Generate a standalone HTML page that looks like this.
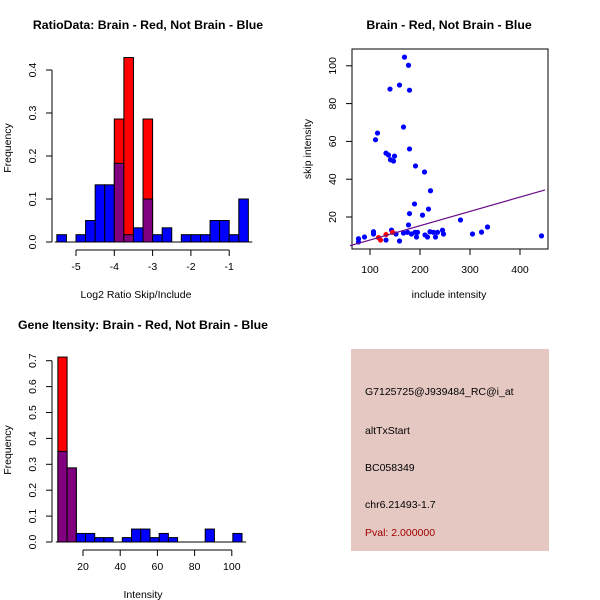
<!DOCTYPE html>
<html><head><meta charset="utf-8"><style>
body{margin:0;background:#fff;}
svg{display:block;font-family:"Liberation Sans",sans-serif;}
</style></head><body>
<svg id="c" width="600" height="600" xmlns="http://www.w3.org/2000/svg">
<rect width="600" height="600" fill="#fff"/>
<text x="148" y="29" font-size="12.3" font-weight="bold" text-anchor="middle">RatioData: Brain - Red, Not Brain - Blue</text>
<text x="136" y="298" font-size="10.5" text-anchor="middle">Log2 Ratio Skip/Include</text>
<text x="11" y="148" font-size="10.5" text-anchor="middle" transform="rotate(-90 11 148)">Frequency</text>
<text x="449" y="29" font-size="12.3" font-weight="bold" text-anchor="middle">Brain - Red, Not Brain - Blue</text>
<text x="449" y="298" font-size="10.5" text-anchor="middle">include intensity</text>
<text x="311" y="149" font-size="10.5" text-anchor="middle" transform="rotate(-90 311 149)">skip intensity</text>
<text x="143" y="329" font-size="12.3" font-weight="bold" text-anchor="middle">Gene Itensity: Brain - Red, Not Brain - Blue</text>
<text x="143" y="598" font-size="10.5" text-anchor="middle">Intensity</text>
<text x="11" y="450" font-size="10.5" text-anchor="middle" transform="rotate(-90 11 450)">Frequency</text>
<rect x="351" y="349" width="198" height="202" fill="#e5c8c2"/>
<text x="365" y="395" font-size="10.5">G7125725@J939484_RC@i_at</text>
<text x="365" y="434" font-size="10.5">altTxStart</text>
<text x="365" y="471" font-size="10.5">BC058349</text>
<text x="365" y="508" font-size="10.5">chr6.21493-1.7</text>
<text x="365" y="536" font-size="10.5" fill="#a00000">Pval: 2.000000</text>
</svg>
<script>
// Ratio histogram data
const ratioStart = -5.5, ratioWidth = 0.25;
const ratioBlue = [0.017,0,0.017,0.05,0.133,0.133,0.183,0.017,0.033,0.1,0.017,0.033,0,0.017,0.017,0.017,0.05,0.05,0.017,0.1];
const ratioRed  = [0,0,0,0,0,0,0.286,0.429,0,0.286,0,0,0,0,0,0,0,0,0,0];
const ratioXTicks = [-5,-4,-3,-2,-1];
const ratioYTicks = [0,0.1,0.2,0.3,0.4];
// Intensity histogram data
const intStart = 6.5, intWidth = 4.95;
const intBlue = [0.35,0.286,0.033,0.033,0.017,0.017,0,0.017,0.05,0.05,0.017,0.033,0.017,0,0,0,0.05,0,0,0.033];
const intRed  = [0.714,0.286,0,0,0,0,0,0,0,0,0,0,0,0,0,0,0,0,0,0];
const intXTicks = [20,40,60,80,100];
const intYTicks = [0,0.1,0.2,0.3,0.4,0.5,0.6,0.7];
// Scatter data
const blueX = [169,177,159,140,179,167,115,111,179,132,137,149,141,147,191,209,221,189,179,217,205,177,281,335,323,305,443,77,77,89,107,107,143,152,159,132,167,175,183,190,193,195,210,215,220,227,231,235,245,247];
const blueY = [104.6,100.3,89.8,87.7,87.1,67.6,64.4,60.9,56,53.8,52.8,52.2,50.3,49.6,47,43.8,33.9,26.9,21.8,24.2,21,15.8,18.4,14.7,12,11,10,8.5,6.8,9.4,12.2,11,13.1,11,7.3,7.8,11.5,11.9,11,11.9,9.4,11.9,10.5,9.4,12.2,11.9,9.4,11.9,13,11];
const redX = [117,121,132,145];
const redY = [9.1,7.8,10.7,11.9];
const fitLine = [[60,4.8],[450,34.3]];
const scXTicks = [100,200,300,400];
const scYTicks = [20,40,60,80,100];

const svg = document.getElementById('c');
const NS = 'http://www.w3.org/2000/svg';
function mk(tag, attrs){const e=document.createElementNS(NS,tag);for(const k in attrs)e.setAttribute(k,attrs[k]);svg.appendChild(e);return e;}

function hist(prefix, start, width, blue, red, xs, ys, xTicks, yTicks, y0){
  let e = mk('line',{x1:52,x2:52,y1:ys(yTicks[0]),y2:ys(yTicks[yTicks.length-1]),stroke:'#000'});
  
  
  yTicks.forEach(t=>{
    mk('line',{x1:46,x2:52,y1:ys(t),y2:ys(t),stroke:'#000'});
    const tx=mk('text',{x:36,y:ys(t),'font-size':10.5,'text-anchor':'middle',transform:`rotate(-90 36 ${ys(t)})`});
    tx.textContent=t.toFixed(1);
    
    
  });
  e = mk('line',{x1:xs(xTicks[0]),x2:xs(xTicks[xTicks.length-1]),y1:y0+8,y2:y0+8,stroke:'#000'});
  
  
  xTicks.forEach(t=>{
    mk('line',{x1:xs(t),x2:xs(t),y1:y0+8,y2:y0+14,stroke:'#000'});
    const tx=mk('text',{x:xs(t),y:y0+28,'font-size':10.5,'text-anchor':'middle'});
    tx.textContent=t;
    
    
  });
  mk('line',{x1:xs(start)-2,x2:xs(start+width*blue.length)+4,y1:y0,y2:y0,stroke:'#000'});
  for(let i=0;i<blue.length;i++){
    const x1=xs(start+i*width), x2=xs(start+(i+1)*width);
    if(red[i]>0){
      const r=mk('rect',{x:x1,y:ys(red[i]),width:x2-x1,height:y0-ys(red[i]),fill:'#ff0000',stroke:'#000','stroke-width':1});
      
      
    }
    if(blue[i]>0){
      const col = red[i]>0 ? '#800080' : '#0000ff';
      const r=mk('rect',{x:x1,y:ys(blue[i]),width:x2-x1,height:y0-ys(blue[i]),fill:col,stroke:'#000','stroke-width':1});
      
      
    }
  }
}

const rY = v=>242 - v*430;
const rX = v=>76 + (v+5)*38.3;
hist('ratio', ratioStart, ratioWidth, ratioBlue, ratioRed, rX, rY, ratioXTicks, ratioYTicks, 242);

const iY = v=>542 - v*259;
const iX = v=>83 + (v-20)*1.86;
hist('intensity', intStart, intWidth, intBlue, intRed, iX, iY, intXTicks, intYTicks, 542);

const sX = v=>370 + (v-100)*0.5;
const sY = v=>217 - (v-20)*1.89;
let b = mk('rect',{x:352,y:49,width:196,height:200,fill:'none',stroke:'#000'});


scXTicks.forEach(t=>{
  mk('line',{x1:sX(t),x2:sX(t),y1:249,y2:255,stroke:'#000'});
  const tx=mk('text',{x:sX(t),y:273,'font-size':10.5,'text-anchor':'middle'});
  tx.textContent=t;
  
  
});
scYTicks.forEach(t=>{
  mk('line',{x1:346,x2:352,y1:sY(t),y2:sY(t),stroke:'#000'});
  const tx=mk('text',{x:336,y:sY(t),'font-size':10.5,'text-anchor':'middle',transform:`rotate(-90 336 ${sY(t)})`});
  tx.textContent=t;
  
  
});
for(let i=0;i<blueX.length;i++){
  const c=mk('circle',{cx:sX(blueX[i]),cy:sY(blueY[i]),r:2.6,fill:'#0000ff'});
  
  
}
for(let i=0;i<redX.length;i++){
  const c=mk('circle',{cx:sX(redX[i]),cy:sY(redY[i]),r:2.6,fill:'#ff0000'});
  
  
}
const ln=mk('line',{x1:sX(fitLine[0][0]),y1:sY(fitLine[0][1]),x2:sX(fitLine[1][0]),y2:sY(fitLine[1][1]),stroke:'#6a0a8a','stroke-width':1.2});


</script>
</body></html>
